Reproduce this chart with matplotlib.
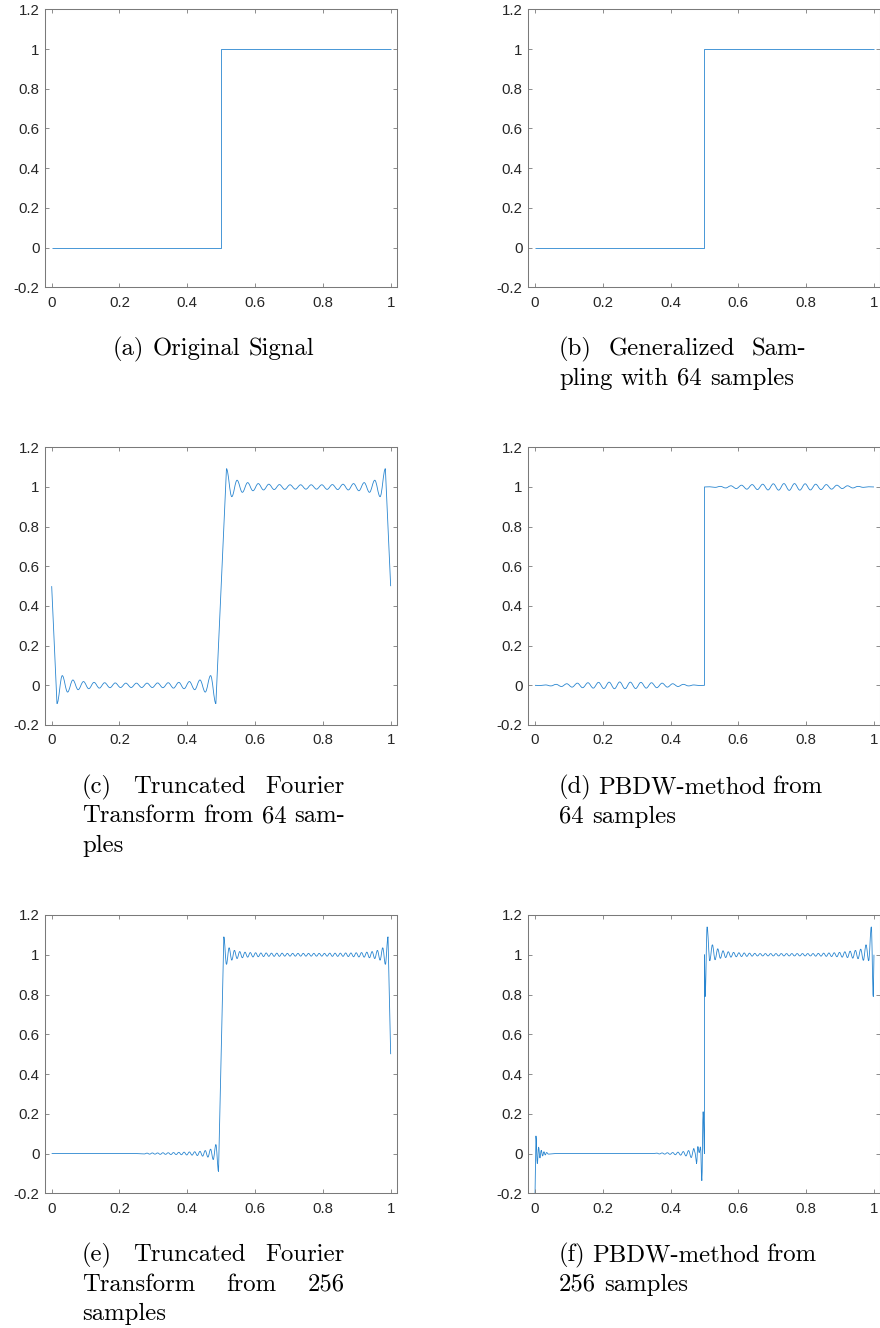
import matplotlib
matplotlib.use('Agg')
import matplotlib.pyplot as plt
from matplotlib.path import Path
from matplotlib.patches import PathPatch

# ---------------- data ----------------
# (a) original signal and (b) generalized sampling with 64 samples
a_x = [0.0, 0.5, 0.5, 1.0]
a_y = [0.0, 0.0, 1.0, 1.0]
b_x = [0.0, 0.5, 0.5, 1.0]
b_y = [0.0, 0.0, 1.0, 1.0]

# extremum positions of the 64-sample curves (lower half / upper half)
x64_lo = [0.0, 0.0156, 0.0313, 0.0469, 0.0625, 0.0781, 0.0938, 0.1094, 0.125, 0.1406,
          0.1563, 0.1719, 0.1875, 0.2031, 0.2188, 0.2344, 0.25, 0.2656, 0.2813, 0.2969,
          0.3125, 0.3281, 0.3438, 0.3594, 0.375, 0.3906, 0.4063, 0.4219, 0.4375, 0.4531,
          0.4688, 0.4844]
x64_hi = [0.5156, 0.5313, 0.5469, 0.5625, 0.5781, 0.5938, 0.6094, 0.625, 0.6406, 0.6563,
          0.6719, 0.6875, 0.7031, 0.7188, 0.7344, 0.75, 0.7656, 0.7813, 0.7969, 0.8125,
          0.8281, 0.8438, 0.8594, 0.875, 0.8906, 0.9063, 0.9219, 0.9375, 0.9531, 0.9688,
          0.9844, 1.0]

# (c) truncated Fourier transform from 64 samples
c_y_lo = [0.5, -0.092, 0.049, -0.034, 0.027, -0.022, 0.019, -0.017, 0.015, -0.014, 0.013,
          -0.012, 0.012, -0.011, 0.011, -0.011, 0.011, -0.011, 0.011, -0.011, 0.012,
          -0.012, 0.013, -0.014, 0.015, -0.017, 0.019, -0.022, 0.027, -0.034, 0.049, -0.092]
c_y_mid = [0.5]
c_y_hi = [1.092, 0.951, 1.034, 0.973, 1.022, 0.981, 1.017, 0.985, 1.014, 0.987, 1.012,
          0.988, 1.011, 0.989, 1.011, 0.989, 1.011, 0.989, 1.011, 0.988, 1.012, 0.987,
          1.014, 0.985, 1.017, 0.981, 1.022, 0.973, 1.034, 0.951, 1.092, 0.5]

# (d) PBDW-method from 64 samples
d_y_lo = [0.0, -0.001, 0.002, -0.003, 0.005, -0.006, 0.008, -0.009, 0.011, -0.012, 0.013,
          -0.014, 0.015, -0.016, 0.016, -0.017, 0.017, -0.017, 0.016, -0.016, 0.015,
          -0.014, 0.013, -0.012, 0.011, -0.009, 0.008, -0.006, 0.005, -0.003, 0.002, -0.001]
d_y_mid = [0.0, 1.0]
d_y_hi = [1.001, 0.998, 1.003, 0.995, 1.006, 0.992, 1.009, 0.989, 1.012, 0.987, 1.014,
          0.985, 1.016, 0.984, 1.017, 0.983, 1.017, 0.984, 1.016, 0.985, 1.014, 0.987,
          1.012, 0.989, 1.009, 0.992, 1.006, 0.995, 1.003, 0.998, 1.001, 1.0]

# (e) truncated Fourier transform from 256 samples
e_x_lo = [0.0, 0.1, 0.2, 0.25, 0.2734, 0.2813, 0.2891, 0.2969, 0.3047, 0.3125, 0.3203,
          0.3281, 0.3359, 0.3438, 0.3516, 0.3594, 0.3672, 0.375, 0.3828, 0.3906, 0.3984,
          0.4063, 0.4141, 0.4219, 0.4297, 0.4375, 0.4453, 0.4531, 0.4609, 0.4688, 0.4766,
          0.4844, 0.4922, 0.5]
e_y_lo = [0.0, 0.0, 0.0, 0.0, -0.002, 0.002, -0.003, 0.003, -0.003, 0.003, -0.004, 0.004,
          -0.004, 0.004, -0.005, 0.005, -0.005, 0.006, -0.006, 0.007, -0.007, 0.008,
          -0.008, 0.009, -0.010, 0.011, -0.013, 0.015, -0.018, 0.022, -0.03, 0.045, -0.09,
          0.5]
x128_hi = [0.5078, 0.5156, 0.5234, 0.5313, 0.5391, 0.5469, 0.5547, 0.5625, 0.5703, 0.5781,
           0.5859, 0.5938, 0.6016, 0.6094, 0.6172, 0.625, 0.6328, 0.6406, 0.6484, 0.6563,
           0.6641, 0.6719, 0.6797, 0.6875, 0.6953, 0.7031, 0.7109, 0.7188, 0.7266, 0.7344,
           0.7422, 0.75, 0.7578, 0.7656, 0.7734, 0.7813, 0.7891, 0.7969, 0.8047, 0.8125,
           0.8203, 0.8281, 0.8359, 0.8438, 0.8516, 0.8594, 0.8672, 0.875, 0.8828, 0.8906,
           0.8984, 0.9063, 0.9141, 0.9219, 0.9297, 0.9375, 0.9453, 0.9531, 0.9609, 0.9688,
           0.9766, 0.9844, 0.9922]
e_y_hi = [1.09, 0.952, 1.035, 0.973, 1.022, 0.981, 1.016, 0.985, 1.013, 0.988, 1.011,
          0.989, 1.010, 0.990, 1.009, 0.991, 1.009, 0.992, 1.008, 0.992, 1.008, 0.992,
          1.008, 0.993, 1.007, 0.993, 1.007, 0.993, 1.007, 0.993, 1.007, 0.993, 1.007,
          0.993, 1.007, 0.993, 1.007, 0.993, 1.007, 0.993, 1.008, 0.992, 1.008, 0.992,
          1.008, 0.992, 1.009, 0.991, 1.009, 0.990, 1.010, 0.989, 1.011, 0.988, 1.013,
          0.985, 1.016, 0.981, 1.022, 0.973, 1.035, 0.952, 1.09]
e_x_end = [1.0]
e_y_end = [0.5]

# (f) PBDW-method from 256 samples
f_x_lo = [0.0, 0.0029, 0.0068, 0.0107, 0.0146, 0.0185, 0.0225, 0.0264, 0.0303, 0.0342,
          0.04, 0.06, 0.2, 0.35, 0.3594, 0.3672, 0.375, 0.3828, 0.3906, 0.3984, 0.4063,
          0.4141, 0.4219, 0.4297, 0.4375, 0.4453, 0.4531, 0.4609, 0.4688, 0.4727, 0.4766,
          0.4805, 0.4844, 0.4883, 0.4922, 0.4961, 0.5, 0.5, 0.502]
f_y_lo = [-0.22, 0.088, -0.05, 0.032, -0.022, 0.016, -0.012, 0.009, -0.007, 0.005,
          -0.003, 0.0, 0.0, 0.0, 0.002, -0.002, 0.003, -0.003, 0.004, -0.004, 0.005,
          -0.006, 0.007, -0.008, 0.01, -0.012, 0.015, -0.02, 0.025, 0.0, -0.05, 0.035,
          0.005, 0.033, -0.136, 0.21, 0.0, 1.0, 0.79]
f_y_hi = [1.14, 0.97, 1.05, 0.975, 1.03, 0.982, 1.02, 0.986, 1.015, 0.988, 1.012, 0.99,
          1.01, 0.991, 1.009, 0.992, 1.008, 0.993, 1.007, 0.994, 1.006, 0.994, 1.006,
          0.994, 1.006, 0.994, 1.006, 0.994, 1.006, 0.994, 1.006, 0.994, 1.006, 0.994,
          1.006, 0.994, 1.006, 0.994, 1.006, 0.994, 1.006, 0.993, 1.007, 0.993, 1.008,
          0.992, 1.009, 0.991, 1.01, 0.99, 1.012, 0.988, 1.015, 0.986, 1.018, 0.983,
          1.022, 0.98, 1.028, 0.972, 1.05, 0.97, 1.14]
f_x_end = [0.998, 1.0]
f_y_end = [0.79, 1.0]

xticks = [0, 0.2, 0.4, 0.6, 0.8, 1.0]
xticklabels = ['0', '0.2', '0.4', '0.6', '0.8', '1']
yticks = [-0.2, 0, 0.2, 0.4, 0.6, 0.8, 1.0, 1.2]
yticklabels = ['-0.2', '0', '0.2', '0.4', '0.6', '0.8', '1', '1.2']

captions = {
    'a': [(['(a)', 'Original', 'Signal'], 'center')],
    'b': [(['(b)', 'Generalized', 'Sam-'], 'justify'),
          (['pling', 'with', '64', 'samples'], 'left')],
    'c': [(['(c)', 'Truncated', 'Fourier'], 'justify'),
          (['Transform', 'from', '64', 'sam-'], 'justify'),
          (['ples'], 'left')],
    'd': [(['(d)', 'PBDW-method', 'from'], 'justify'),
          (['64', 'samples'], 'left')],
    'e': [(['(e)', 'Truncated', 'Fourier'], 'justify'),
          (['Transform', 'from', '256'], 'justify'),
          (['samples'], 'left')],
    'f': [(['(f)', 'PBDW-method', 'from'], 'justify'),
          (['256', 'samples'], 'left')],
}

series = {
    'a': (a_x, a_y),
    'b': (b_x, b_y),
    'c': (x64_lo + [0.5] + x64_hi, c_y_lo + c_y_mid + c_y_hi),
    'd': (x64_lo + [0.5, 0.5] + x64_hi, d_y_lo + d_y_mid + d_y_hi),
    'e': (e_x_lo + x128_hi + e_x_end, e_y_lo + e_y_hi + e_y_end),
    'f': (f_x_lo + x128_hi + f_x_end, f_y_lo + f_y_hi + f_y_end),
}

# ---------------- layout (pixels) ----------------
W, H = 880, 1328
fig = plt.figure(figsize=(W / 100, H / 100), dpi=100)
fig.patch.set_facecolor('white')

rows = [(9.3, 287.3), (447.3, 725.0), (915.0, 1193.3)]
cols = [(45.0, 397.0), (528.3, 880.3)]
cap_boxes = [(82.0, 345.0), (559.0, 806.0)]
order = [['a', 'b'], ['c', 'd'], ['e', 'f']]

LINE = '#2a86d0'
FRAME = '#7a7a7a'
FS_CAP = 17.8
renderer = fig.canvas.get_renderer()


def curve_path(xs, ys):
    """Path through the read-off points; runs between two extrema are drawn
    as smooth half-waves (horizontal tangents), everything else straight."""
    n = len(xs)
    ext = [False] * n
    for i in range(1, n - 1):
        if (ys[i] - ys[i - 1]) * (ys[i] - ys[i + 1]) > 0:
            ext[i] = True
    verts = [(xs[0], ys[0])]
    codes = [Path.MOVETO]
    for i in range(n - 1):
        x0, y0, x1, y1 = xs[i], ys[i], xs[i + 1], ys[i + 1]
        if ext[i] and ext[i + 1] and x1 > x0:
            d = x1 - x0
            verts += [(x0 + 0.363 * d, y0), (x1 - 0.363 * d, y1), (x1, y1)]
            codes += [Path.CURVE4] * 3
        else:
            verts.append((x1, y1))
            codes.append(Path.LINETO)
    return Path(verts, codes)


def place_caption(lines, x0, x1, y0):
    em = FS_CAP * 100 / 72
    space = em * 0.333
    min_space = em * 0.27
    for i, (words, mode) in enumerate(lines):
        y = y0 + i * 29.5
        texts = [fig.text(0, 0, w, fontfamily='cmr10', fontsize=FS_CAP, color='black',
                          ha='left', va='baseline') for w in words]
        widths = [t.get_window_extent(renderer).width for t in texts]
        total = sum(widths)
        gap = space
        start = x0
        if mode == 'justify' and len(words) > 1:
            gap = max((x1 - x0 - total) / (len(words) - 1), min_space)
        elif mode == 'center':
            full = total + gap * (len(words) - 1)
            start = (x0 + x1) / 2 - full / 2
        x = start
        for t, w in zip(texts, widths):
            t.set_position((x / W, 1 - y / H))
            x += w + gap


for r, (top, bot) in enumerate(rows):
    for c, (left, right) in enumerate(cols):
        key = order[r][c]
        ax = fig.add_axes([left / W, 1 - bot / H, (right - left) / W, (bot - top) / H])
        xs, ys = series[key]
        ax.add_patch(PathPatch(curve_path(xs, ys), fill=False, edgecolor=LINE, lw=0.6,
                               joinstyle='round', capstyle='butt'))
        ax.set_xlim(-0.0197, 1.0187)
        ax.set_ylim(-0.2, 1.2)
        ax.set_xticks(xticks)
        ax.set_xticklabels(xticklabels, fontfamily='Liberation Sans')
        ax.set_yticks(yticks)
        ax.set_yticklabels(yticklabels, fontfamily='Liberation Sans')
        ax.tick_params(direction='in', length=3, width=0.6, color=FRAME, top=True,
                       right=True, labelsize=10.8, labelcolor='#262626')
        ax.tick_params(axis='y', pad=4)
        ax.tick_params(axis='x', pad=6)
        for s in ax.spines.values():
            s.set_color(FRAME)
            s.set_linewidth(0.75)
        cx0, cx1 = cap_boxes[c]
        place_caption(captions[key], cx0, cx1, bot + 68)

fig.savefig('out.png', dpi=100)
